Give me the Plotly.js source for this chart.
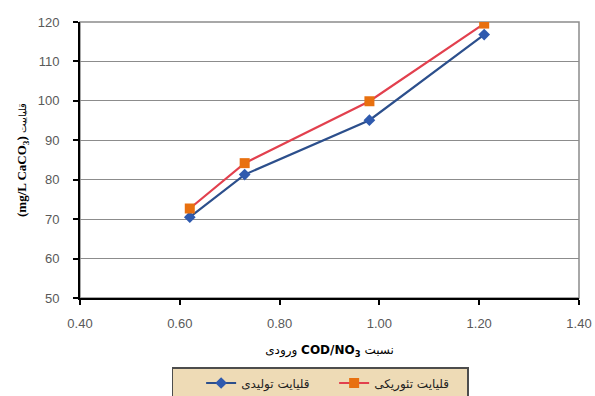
<!DOCTYPE html>
<html>
<head>
<meta charset="utf-8">
<script src="https://cdn.plot.ly/plotly-3.0.1.min.js"></script>
<style>
  html, body { margin: 0; padding: 0; background: #ffffff; }
  #chart { width: 595px; height: 396px; }
</style>
</head>
<body>
<div id="chart"></div>
<script>
// Influent COD/NO3 ratio
const ratio = [0.62, 0.73, 0.98, 1.21];
// Produced alkalinity (mg/L CaCO3)
const producedAlk = [70.5, 81.3, 95.1, 116.8];
// Theoretical alkalinity (mg/L CaCO3)
const theoreticalAlk = [72.7, 84.2, 99.9, 119.6];

const xTicks = [0.4, 0.6, 0.8, 1.0, 1.2, 1.4];
const xTickText = ['0.40', '0.60', '0.80', '1.00', '1.20', '1.40'];
const yTicks = [50, 60, 70, 80, 90, 100, 110, 120];

const nameProduced = 'قلیایت تولیدی';
const nameTheoretical = 'قلیایت تئوریکی';

const tickFont = { family: 'Liberation Sans, Arial, sans-serif', size: 13, color: '#595959' };

const traces = [
  {
    x: ratio, y: producedAlk, name: nameProduced,
    type: 'scatter', mode: 'lines+markers',
    line: { color: '#2c4f8c', width: 2.2 },
    marker: { symbol: 'diamond', size: 9, color: '#2f5aae' }
  },
  {
    x: ratio, y: theoreticalAlk, name: nameTheoretical,
    type: 'scatter', mode: 'lines+markers',
    line: { color: '#e2404e', width: 2.2 },
    marker: { symbol: 'square', size: 10, color: '#e8700f' }
  }
];

const layout = {
  width: 595, height: 396,
  margin: { l: 80, r: 16, t: 22, b: 98, autoexpand: false },
  paper_bgcolor: '#ffffff', plot_bgcolor: '#ffffff',
  showlegend: true,
  xaxis: {
    range: [0.4, 1.4], tickvals: xTicks, ticktext: xTickText,
    showgrid: false, zeroline: false,
    showline: true, linecolor: '#000000', linewidth: 2,
    ticks: 'outside', ticklen: 5, tickwidth: 2, tickcolor: '#000000',
    ticklabelstandoff: 7,
    tickfont: tickFont,
    title: {
      // Title is laid out right-to-left, so the words are given in that order
      text: 'ورودی <b>COD/NO<sub>3</sub></b> نسبت',
      font: { family: 'DejaVu Sans, sans-serif', size: 12, color: '#000000' },
      standoff: 16
    }
  },
  yaxis: {
    range: [50, 120], tickvals: yTicks,
    showgrid: true, gridcolor: '#8c8c8c', gridwidth: 1,
    zeroline: false,
    showline: true, linecolor: '#000000', linewidth: 2,
    ticks: 'outside', ticklen: 5, tickwidth: 2, tickcolor: '#000000',
    ticklabelstandoff: 11,
    tickfont: tickFont,
    title: {
      text: '<b>(mg/L CaCO<sub>3</sub>)</b> <span style="font-size:10px">قلیاییت</span>',
      font: { family: 'Liberation Serif, serif', size: 13, color: '#000000' },
      standoff: 8
    }
  },
  shapes: [
    {
      type: 'rect', xref: 'paper', yref: 'paper', x0: 0, x1: 1, y0: 0, y1: 1,
      line: { color: '#8c8c8c', width: 1.5 }, layer: 'below'
    }
  ],
  legend: {
    orientation: 'h',
    x: 0.184, xanchor: 'left',
    y: -0.25, yanchor: 'top',
    bgcolor: '#eedbb6', bordercolor: '#4d4d4d', borderwidth: 1.5,
    font: { family: 'DejaVu Sans, sans-serif', size: 12, color: '#222222' },
    title: { text: '&nbsp;&nbsp;&nbsp;&nbsp;', side: 'left' },
    itemwidth: 30,
    entrywidth: 88
  }
};

Plotly.newPlot('chart', traces, layout, { displayModeBar: false, staticPlot: true });
</script>
</body>
</html>
